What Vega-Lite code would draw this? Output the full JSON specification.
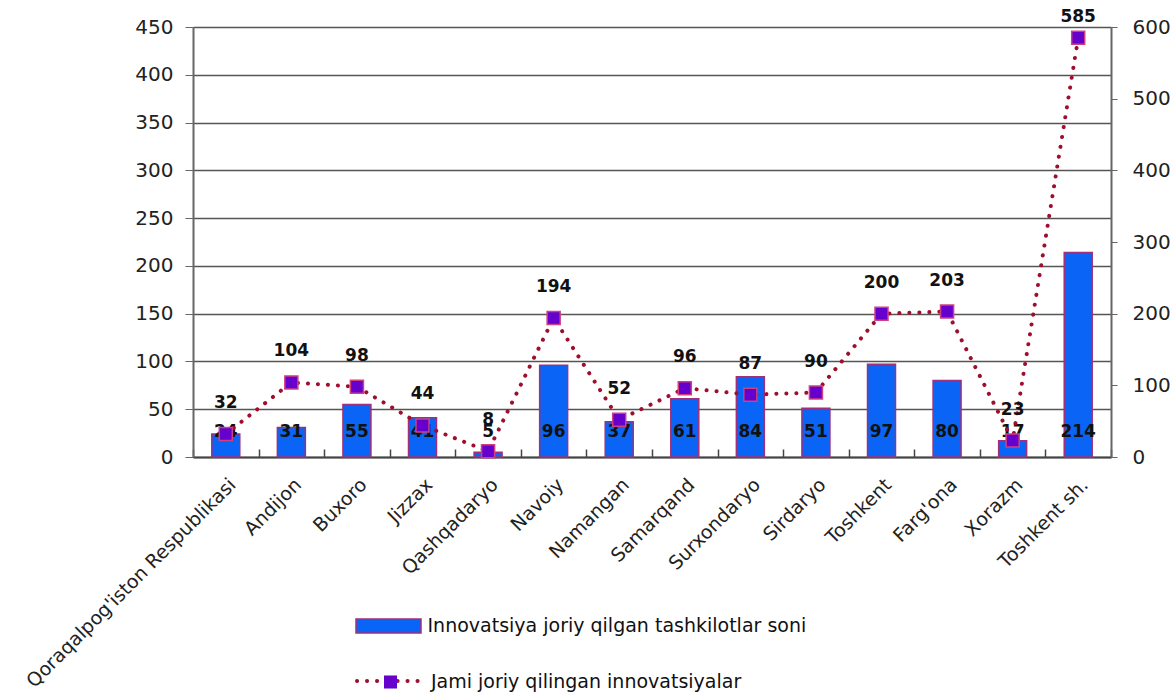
{
  "$schema": "https://vega.github.io/schema/vega-lite/v6.json",
  "width": 918,
  "height": 430,
  "autosize": {"type": "none"},
  "padding": {"left": 193, "top": 27, "right": 63, "bottom": 236},
  "background": "white",
  "config": {
    "view": {"stroke": null},
    "font": "DejaVu Sans",
    "axis": {"labelFont": "DejaVu Sans", "labelColor": "#222", "domainColor": "#777", "tickColor": "#777"},
    "legend": {"labelLimit": 800}
  },
  "data": {
    "values": [
      {"region": "Qoraqalpog'iston Respublikasi", "orgs": 24, "total": 32},
      {"region": "Andijon", "orgs": 31, "total": 104},
      {"region": "Buxoro", "orgs": 55, "total": 98},
      {"region": "Jizzax", "orgs": 41, "total": 44},
      {"region": "Qashqadaryo", "orgs": 5, "total": 8},
      {"region": "Navoiy", "orgs": 96, "total": 194},
      {"region": "Namangan", "orgs": 37, "total": 52},
      {"region": "Samarqand", "orgs": 61, "total": 96},
      {"region": "Surxondaryo", "orgs": 84, "total": 87},
      {"region": "Sirdaryo", "orgs": 51, "total": 90},
      {"region": "Toshkent", "orgs": 97, "total": 200},
      {"region": "Farg'ona", "orgs": 80, "total": 203},
      {"region": "Xorazm", "orgs": 17, "total": 23},
      {"region": "Toshkent sh.", "orgs": 214, "total": 585}
    ]
  },
  "encoding": {
    "x": {
      "field": "region", "type": "nominal", "sort": null,
      "scale": {"paddingInner": 0, "paddingOuter": 0},
      "axis": {
        "title": null, "labelAngle": -45, "labelFontSize": 19, "labelPadding": 26, "labelLimit": 500,
        "tickBand": "extent", "tickSize": -8, "domainColor": "#444", "domainWidth": 2, "tickColor": "#444", "tickWidth": 1.5
      }
    }
  },
  "layer": [
    {
      "layer": [
        {
          "mark": {"type": "bar", "size": 28, "stroke": "#A0307A", "strokeWidth": 1.5},
          "encoding": {
            "y": {
              "field": "orgs", "type": "quantitative",
              "scale": {"domain": [0, 450], "nice": false},
              "axis": {
                "title": null, "orient": "left", "values": [0, 50, 100, 150, 200, 250, 300, 350, 400, 450],
                "grid": true, "gridColor": "#555", "gridWidth": 1.5, "labelFontSize": 20,
                "tickSize": 8, "labelPadding": 12, "domainColor": "#666", "domainWidth": 2, "tickColor": "#666"
              }
            },
            "fill": {
              "datum": "Innovatsiya joriy qilgan tashkilotlar soni",
              "scale": {"domain": ["Innovatsiya joriy qilgan tashkilotlar soni"], "range": ["#0A64F5"]},
              "legend": {
                "orient": "none", "legendX": 174.5, "legendY": 578, "title": null,
                "padding": 0, "symbolSize": 1600, "labelOffset": 18,
                "symbolType": "M-1.625,-0.35H1.625V0.35H-1.625Z",
                "symbolStrokeColor": "#A0307A", "symbolStrokeWidth": 1.5, "symbolOpacity": 1,
                "labelFontSize": 19, "labelFont": "DejaVu Sans", "labelColor": "#111"
              }
            }
          }
        },
        {
          "mark": {"type": "text", "baseline": "middle", "dy": -25, "fontSize": 17, "fontWeight": "bold", "color": "#111"},
          "encoding": {
            "y": {"datum": 0},
            "text": {"field": "orgs", "type": "quantitative"}
          }
        }
      ]
    },
    {
      "layer": [
        {
          "mark": {"type": "line", "strokeWidth": 4, "strokeDash": [0.1, 9.9], "strokeCap": "round"},
          "encoding": {
            "y": {
              "field": "total", "type": "quantitative",
              "scale": {"domain": [0, 600], "nice": false},
              "axis": {
                "title": null, "orient": "right", "values": [0, 100, 200, 300, 400, 500, 600],
                "grid": false, "labelFontSize": 20, "tickSize": 6, "labelPadding": 15,
                "domainColor": "#666", "domainWidth": 2, "tickColor": "#666"
              }
            },
            "stroke": {
              "datum": "dots",
              "scale": {"domain": ["dots"], "range": ["#9E0F2E"]},
              "legend": {
                "orient": "none", "legendX": 174.5, "legendY": 632, "title": null, "padding": 0,
                "symbolType": "M-1.625,0H-0.4M0.4,0H1.625", "symbolSize": 1600,
                "symbolDash": [0.1, 9.9], "symbolStrokeWidth": 4, "labelExpr": "''",
                "encode": {"symbols": {"update": {"strokeCap": {"value": "round"}, "fill": {"value": "transparent"}}}}
              }
            }
          }
        },
        {
          "mark": {"type": "point", "size": 170, "filled": true, "fill": "#6600CC", "stroke": "#D04080", "strokeWidth": 1.5, "opacity": 1},
          "encoding": {
            "y": {"field": "total", "type": "quantitative"},
            "shape": {
              "datum": "Jami joriy qilingan innovatsiyalar",
              "scale": {"domain": ["Jami joriy qilingan innovatsiyalar"], "range": ["square"]},
              "legend": {
                "orient": "none", "legendX": 188, "legendY": 645.5, "title": null, "padding": 0,
                "symbolSize": 170, "symbolFillColor": "#6600CC", "symbolStrokeColor": "#D04080",
                "symbolStrokeWidth": 1.5, "symbolOpacity": 1, "labelOffset": 31,
                "labelFontSize": 19, "labelFont": "DejaVu Sans", "labelColor": "#111"
              }
            }
          }
        },
        {
          "transform": [{"filter": "datum.total < 500"}],
          "mark": {"type": "text", "baseline": "middle", "dy": -31, "fontSize": 17, "fontWeight": "bold", "color": "#111"},
          "encoding": {
            "y": {"field": "total", "type": "quantitative"},
            "text": {"field": "total", "type": "quantitative"}
          }
        },
        {
          "transform": [{"filter": "datum.total >= 500"}],
          "mark": {"type": "text", "baseline": "middle", "dy": -21, "fontSize": 17, "fontWeight": "bold", "color": "#111"},
          "encoding": {
            "y": {"field": "total", "type": "quantitative"},
            "text": {"field": "total", "type": "quantitative"}
          }
        }
      ]
    }
  ],
  "resolve": {"scale": {"y": "independent"}}
}
